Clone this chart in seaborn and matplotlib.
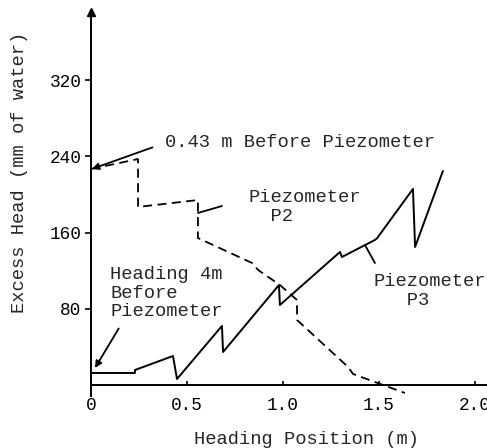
import matplotlib
matplotlib.use("Agg")
import matplotlib.pyplot as plt
import seaborn as sns
import pandas as pd

# Piezometer P3 (solid) : heading 4 m before piezometer
p3_x = [0.0, 0.229, 0.229, 0.427, 0.448, 0.682, 0.688, 0.979, 0.984, 1.297, 1.307, 1.479, 1.490, 1.677, 1.688, 1.833]
p3_y = [12.6, 12.6, 15.7, 30.4, 6.3, 61.9, 34.6, 104.9, 83.9, 139.6, 134.3, 152.2, 154.0, 205.7, 144.8, 224.6]

# Piezometer P2 (dashed) : 0.43 m before piezometer
p2_x = [0.0, 0.245, 0.245, 0.557, 0.557, 0.839, 0.870, 0.984, 1.073, 1.073, 1.339, 1.365, 1.635]
p2_y = [226.7, 237.1, 186.8, 194.1, 154.2, 128.0, 120.7, 104.9, 89.2, 68.2, 18.9, 11.5, -8.4]

x_ticks = [0, 0.5, 1.0, 1.5, 2.0]
x_tick_labels = ["0", "0.5", "1.0", "1.5", "2.0"]
y_ticks = [80, 160, 240, 320]
y_tick_labels = ["80", "160", "240", "320"]

sns.set_style("white")
plt.rcParams["font.family"] = ["Liberation Mono", "DejaVu Sans Mono"]

fig = plt.figure(figsize=(4.87, 4.48), dpi=100)
ax = fig.add_axes([91 / 487, 51.6 / 448, 395.5 / 487, 384 / 448])

df3 = pd.DataFrame({"x": p3_x, "y": p3_y})
df2 = pd.DataFrame({"x": p2_x, "y": p2_y})
sns.lineplot(data=df3, x="x", y="y", sort=False, estimator=None, color="black",
             linewidth=1.4, ax=ax, clip_on=False)
sns.lineplot(data=df2, x="x", y="y", sort=False, estimator=None, color="black",
             linewidth=1.3, linestyle=(0, (5, 3)), ax=ax, clip_on=False)

ax.set_xlim(0, 2.06)
ax.set_ylim(-12, 391)

for s in ["top", "right"]:
    ax.spines[s].set_visible(False)
ax.spines["bottom"].set_position(("data", 0))
for s in ["left", "bottom"]:
    ax.spines[s].set_linewidth(1.4)
    ax.spines[s].set_color("black")

ax.set_xticks(x_ticks)
ax.set_xticklabels(x_tick_labels)
ax.set_yticks(y_ticks)
ax.set_yticklabels(y_tick_labels)
ax.tick_params(axis="x", direction="in", length=3, width=1.2, pad=9, labelsize=12.8,
               colors="black", bottom=True)
ax.tick_params(axis="y", direction="out", length=4, width=1.2, pad=3, labelsize=12.8,
               colors="black", left=True)

# arrow at top of y axis
ax.plot([0], [1], marker="^", color="black", markersize=5.5,
        transform=ax.get_xaxis_transform(), clip_on=False)

ax.set_xlabel("Heading Position (m)", fontsize=13.5)
ax.set_ylabel("Excess Head (mm of water)", fontsize=13.5)
ax.xaxis.set_label_coords(0.546, -0.09)
ax.yaxis.set_label_coords(-0.16, 0.584)

fs = 13.5
ax.annotate("0.43 m Before Piezometer", xy=(0.005, 226.7), xytext=(0.385, 254),
            fontsize=fs, ha="left", va="center",
            arrowprops=dict(arrowstyle="-|>", color="black", lw=1.3,
                            shrinkA=7, shrinkB=0, mutation_scale=10,
                            relpos=(0.0, 0.5)))
ax.annotate("Heading 4m\nBefore\nPiezometer", xy=(0.021, 17.8), xytext=(0.099, 96.5),
            fontsize=fs, ha="left", va="center", linespacing=1.15,
            arrowprops=dict(arrowstyle="-|>", color="black", lw=1.3,
                            shrinkA=4, shrinkB=0, mutation_scale=10,
                            relpos=(0.12, 0.0)))
ax.text(0.818, 186.8, "Piezometer\n  P2", fontsize=fs, ha="left", va="center", linespacing=1.1)
ax.plot([0.557, 0.682], [180.5, 187.8], color="black", lw=1.3)
ax.text(1.469, 98.6, "Piezometer\n   P3", fontsize=fs, ha="left", va="center", linespacing=1.1)
ax.plot([1.479, 1.427], [128.0, 146.9], color="black", lw=1.3)

fig.savefig("out.png", dpi=100)
